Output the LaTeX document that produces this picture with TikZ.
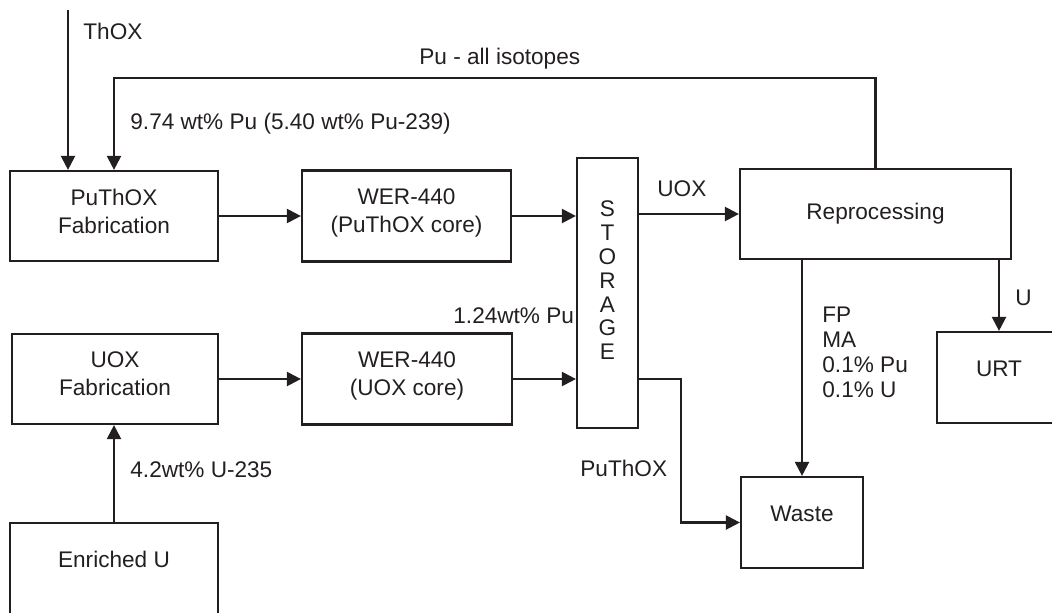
\documentclass[tikz,border=0pt]{standalone}
\usepackage{fontspec}
\setmainfont{Liberation Sans}
\usetikzlibrary{arrows.meta, positioning}
\definecolor{ink}{RGB}{35,31,32}

\begin{document}
\begin{tikzpicture}[
	x=0.5pt, y=0.5pt,
	font=\fontsize{11.3}{14}\selectfont,
	every node/.style={text=ink},
	box/.style={rectangle, draw=ink, line width=1.1pt, inner sep=0pt, align=center},
	twoline/.style={text depth=5pt},
	oneline/.style={text depth=9pt},
	tag/.style={inner sep=0pt, anchor=base west},
	arrow/.style={-{Triangle[length=7pt, width=7pt]}, line width=1.1pt, draw=ink}
	]
	\useasboundingbox (0,0) rectangle (1052,612);
	
	% process boxes
	\node[box, twoline, minimum width=104pt, minimum height=45pt] (pufab) at (114,396) {PuThOX\\Fabrication};
	\node[box, twoline, minimum width=104.5pt, minimum height=45.5pt] (werpu) at (406.5,396) {WER-440\\(PuThOX core)};
	\node[box, minimum width=30.5pt, minimum height=135pt, text depth=12.5pt, font=\fontsize{11.3}{11.9}\selectfont] (storage) at (607.5,319) {S\\T\\O\\R\\A\\G\\E};
	\node[box, minimum width=135.5pt, minimum height=45pt] (repro) at (875.5,398) {Reprocessing};
	\node[box, twoline, minimum width=103pt, minimum height=45pt] (uoxfab) at (115,233) {UOX\\Fabrication};
	\node[box, twoline, minimum width=105pt, minimum height=45.5pt] (weruox) at (407,233) {WER-440\\(UOX core)};
	\node[box, minimum width=104pt, minimum height=48pt, text depth=12pt] (enru) at (114,41) {Enriched U};
	\node[box, oneline, minimum width=61pt, minimum height=45.5pt] (waste) at (802,89.5) {Waste};
	\node[box, oneline, minimum width=62pt, minimum height=45.5pt] (urt) at (999,234.5) {URT};
	
	\coordinate (thox) at (68,602);
	
	% flows
	\draw[arrow] (thox) -- (thox |- pufab.north);
	\draw[arrow] (repro.north) -- ++(0,90) -| (pufab.north);
	\draw[arrow] (pufab.east) -- (werpu.west);
	\draw[arrow] (werpu.east) -- (werpu.east -| storage.west);
	\draw[arrow] (storage.east |- repro.west) -- (repro.west);
	\draw[arrow] (uoxfab.east) -- (weruox.west);
	\draw[arrow] (weruox.east) -- (weruox.east -| storage.west);
	\draw[arrow] (weruox.east -| storage.east) -- ++(42,0) |- (waste.west);
	\draw[arrow] (repro.south -| waste.north) -- (waste.north);
	\draw[arrow] (repro.south -| urt.north) -- (urt.north);
	\draw[arrow] (enru.north) -- (enru.north |- uoxfab.south);
	
	% flow labels
	\node[tag] (thoxlbl) at (83,572) {ThOX};
	\node[tag] (pulbl) at (419,547) {Pu - all isotopes};
	\node[tag] (pufeed) at (130,483) {9.74 wt\% Pu (5.40 wt\% Pu-239)};
	\node[tag] (uoxlbl) at (657,416) {UOX};
	\node[tag] (spentlbl) at (453,289) {1.24wt\% Pu};
	\node[tag] (puthoxlbl) at (580,136) {PuThOX};
	\node[tag] (enrlbl) at (130,135) {4.2wt\% U-235};
	\node[inner sep=0pt, anchor=north west, align=left, font=\fontsize{11.3}{12.5}\selectfont] (wastelbl) at (822,305) {FP\\MA\\0.1\% Pu\\0.1\% U};
	\node[tag] (ulbl) at (1015,307) {U};
	
\end{tikzpicture}
\end{document}
